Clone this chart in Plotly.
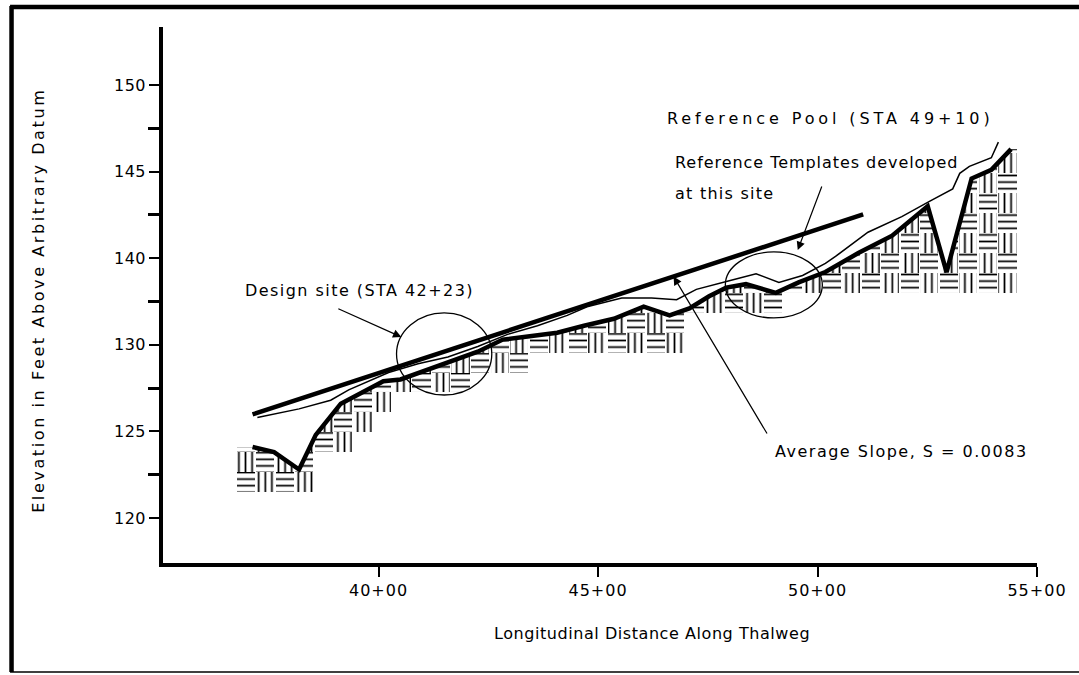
import math
import numpy as np
import plotly.graph_objects as go

# ---- Thalweg (channel bed) profile: station (ft) and elevation (ft) ----
thalweg_sta = [3713, 3762, 3819, 3857, 3914, 3959, 4011, 4050, 4095, 4163,
               4226, 4283, 4407, 4468, 4536, 4604, 4663, 4708, 4753, 4792,
               4837, 4905, 4957, 5018, 5093, 5170, 5251, 5294, 5351, 5396, 5441]
thalweg_elev = [124.1, 123.8, 122.8, 124.8, 126.6, 127.2, 127.9, 128.0, 128.4, 129.0,
                129.6, 130.3, 130.7, 131.1, 131.5, 132.2, 131.7, 132.1, 132.8, 133.3,
                133.5, 133.0, 133.6, 134.2, 135.3, 136.3, 138.0, 134.2, 139.6, 140.1, 141.3]

# ---- Template / water-surface line ----
surface_sta = [3724, 3819, 3891, 3932, 4023, 4090, 4158, 4226, 4294, 4362,
               4430, 4475, 4554, 4622, 4679, 4724, 4799, 4860, 4912, 4966,
               5018, 5041, 5115, 5192, 5256, 5308, 5324, 5346, 5396, 5412]
surface_elev = [125.8, 126.3, 126.8, 127.4, 128.4, 128.9, 129.3, 129.9, 130.6, 131.1,
                131.7, 132.2, 132.7, 132.7, 132.6, 133.2, 133.7, 134.1, 133.6, 134.0,
                134.7, 135.1, 136.5, 137.4, 138.3, 139.0, 139.9, 140.3, 140.8, 141.7]

# ---- Average slope line ----
avg_slope = 0.0083
slope_sta = [3713, 5104]
slope_anchor_sta = 4408
slope_anchor_elev = 131.75

# ---- Bed material hatching: column layout and bottom elevations ----
hatch_start = 3675
hatch_col_width = 44.5
hatch_row_height = 1.15
hatch_bottom = [121.5, 121.5, 121.5, 121.5, 123.8, 123.8, 124.95, 126.1, 127.25, 127.25,
                127.25, 127.25, 128.4, 128.4, 128.4, 129.55, 129.55, 129.55, 129.55, 129.55,
                129.55, 129.55, 129.55, 131.85, 131.85, 131.85, 131.85, 131.85, 133.0, 133.0,
                133.0, 133.0, 133.0, 133.0, 133.0, 133.0, 133.0, 133.0, 133.0, 133.0]
hatch_row_origin = 121.5

# ---- Axes ----
x_range = [3509, 5500]
y_range = [117.40, 148.35]
x_tickvals = [4000, 4500, 5000, 5500]
x_ticktext = ["40+00", "45+00", "50+00", "55+00"]
y_tickvals = [120, 125, 130, 135, 140, 145]
y_ticktext = ["120", "125", "130", "140", "145", "150"]
y_minor_ticks = [122.5, 127.5, 132.5, 137.5, 142.5]

FONT = "DejaVu Sans"


def spaced(text, px):
    return f'<span style="letter-spacing:{px}px">{text}</span>'


def slope_line(sta):
    return slope_anchor_elev + avg_slope * (sta - slope_anchor_sta)


fig = go.Figure()

# Hatch cells in a basket-weave checkerboard
cells = {"-": ([], [], []), "|": ([], [], [])}
t_sta = np.array(thalweg_sta, dtype=float)
t_elev = np.array(thalweg_elev, dtype=float)
for i, bottom in enumerate(hatch_bottom):
    left = hatch_start + i * hatch_col_width
    right = left + hatch_col_width
    inside = t_elev[(t_sta > left) & (t_sta < right)]
    edge_vals = np.interp([left, right], t_sta, t_elev)
    top = max(list(inside) + list(edge_vals))
    k0 = int(round((bottom - hatch_row_origin) / hatch_row_height))
    n_rows = max(1, math.ceil((top - bottom) / hatch_row_height))
    for j in range(n_rows):
        k = k0 + j
        shape = "-" if (i + k) % 2 == 0 else "|"
        xs, bs, hs = cells[shape]
        xs.append(left + hatch_col_width / 2)
        bs.append(hatch_row_origin + k * hatch_row_height)
        hs.append(hatch_row_height)

for shape, (xs, bs, hs) in cells.items():
    fig.add_trace(go.Bar(
        x=xs, y=hs, base=bs, width=hatch_col_width * 0.93,
        marker=dict(color="white", line_width=0,
                    pattern=dict(shape=shape, fgcolor="black", bgcolor="white",
                                 size=6.6, solidity=0.26, fillmode="replace")),
        hoverinfo="skip", showlegend=False))

# White cover above the bed so hatching stops at the thalweg
cover_x = [x_range[0]] + thalweg_sta + [x_range[1], x_range[1], x_range[0]]
cover_y = [thalweg_elev[0]] + thalweg_elev + [thalweg_elev[-1], y_range[1], y_range[1]]
fig.add_trace(go.Scatter(x=cover_x, y=cover_y, mode="lines", fill="toself",
                         fillcolor="white", line=dict(width=0, color="white"),
                         hoverinfo="skip", showlegend=False))

# Average slope line
fig.add_trace(go.Scatter(x=slope_sta, y=[slope_line(s) for s in slope_sta], mode="lines",
                         line=dict(color="black", width=4.5), showlegend=False))
# Template / surface line
fig.add_trace(go.Scatter(x=surface_sta, y=surface_elev, mode="lines",
                         line=dict(color="black", width=1.5), showlegend=False))
# Thalweg
fig.add_trace(go.Scatter(x=thalweg_sta, y=thalweg_elev, mode="lines",
                         line=dict(color="black", width=4.5), showlegend=False))

# Circled sites
fig.add_shape(type="circle", xref="x", yref="y", x0=4041, x1=4258, y0=127.10, y1=131.84,
              line=dict(color="black", width=1.3), layer="above")
fig.add_shape(type="circle", xref="x", yref="y", x0=4790, x1=5011, y0=131.55, y1=135.36,
              line=dict(color="black", width=1.3), layer="above")

# Sheet border
for x0, y0, x1, y1, w in [(-0.1733, 1.0392, -0.1733, -0.2034, 4.5),
                          (-0.175, 1.0373, 1.05, 1.0373, 4.5),
                          (-0.175, -0.2034, 1.05, -0.2034, 1.6)]:
    fig.add_shape(type="line", xref="paper", yref="paper", x0=x0, y0=y0, x1=x1, y1=y1,
                  line=dict(color="black", width=w), layer="above")

text_font = dict(family=FONT, size=16, color="black")
labels = [
    ("Design site (STA 42+23)", 3692, 133.11, 1.45),
    ("Reference Pool (STA 49+10)", 4652, 143.04, 3.9),
    ("Reference Templates developed", 4670, 140.55, 0.95),
    ("at this site", 4670, 138.76, 1.25),
    ("Average Slope, S = 0.0083", 4898, 123.81, 1.5),
]
for text, x, y, ls in labels:
    fig.add_annotation(x=x, y=y, xref="x", yref="y", text=spaced(text, ls),
                       showarrow=False, xanchor="left", yanchor="middle", font=text_font)

# Leader arrows
arrows = [
    (4052, 130.45, 3905, 132.12),
    (4955, 135.47, 5011, 139.23),
    (4672, slope_line(4672), 4887, 124.79),
]
for hx, hy, tx, ty in arrows:
    fig.add_annotation(x=hx, y=hy, ax=tx, ay=ty, xref="x", yref="y", axref="x", ayref="y",
                       text="", showarrow=True, arrowhead=2, arrowsize=1.4,
                       arrowwidth=1.2, arrowcolor="black", standoff=0)

# Axis titles
fig.add_annotation(x=(38 - 163) / 880, y=(563 - 300) / 536, xref="paper", yref="paper",
                   text=spaced("Elevation in Feet Above Arbitrary Datum", 2.6), textangle=-90,
                   showarrow=False, xanchor="center", yanchor="middle", font=text_font)
fig.add_annotation(x=(655 - 163) / 880, y=(563 - 633) / 536, xref="paper", yref="paper",
                   text=spaced("Longitudinal Distance Along Thalweg", 0.56),
                   showarrow=False, xanchor="center", yanchor="middle", font=text_font)

fig.update_layout(
    width=1079, height=675,
    margin=dict(l=163, r=36, t=27, b=112),
    paper_bgcolor="white", plot_bgcolor="white",
    barmode="overlay", bargap=0,
    showlegend=False,
    font=dict(family=FONT, size=16, color="black"),
    xaxis=dict(range=x_range, tickvals=x_tickvals,
               ticktext=[spaced(t, 1) for t in x_ticktext],
               ticks="outside", ticklen=10, tickwidth=2, tickcolor="black",
               showline=True, linewidth=4, linecolor="black",
               showgrid=False, zeroline=False, tickfont=text_font),
    yaxis=dict(range=y_range, tickvals=y_tickvals,
               ticktext=[spaced(t, 0.5) for t in y_ticktext],
               ticks="outside", ticklen=10, tickwidth=1.5, tickcolor="black",
               minor=dict(tickvals=y_minor_ticks, ticks="outside", ticklen=11,
                          tickwidth=3, tickcolor="black", showgrid=False),
               showline=True, linewidth=3.5, linecolor="black",
               showgrid=False, zeroline=False, tickfont=text_font),
)

fig.write_html("out.html")
